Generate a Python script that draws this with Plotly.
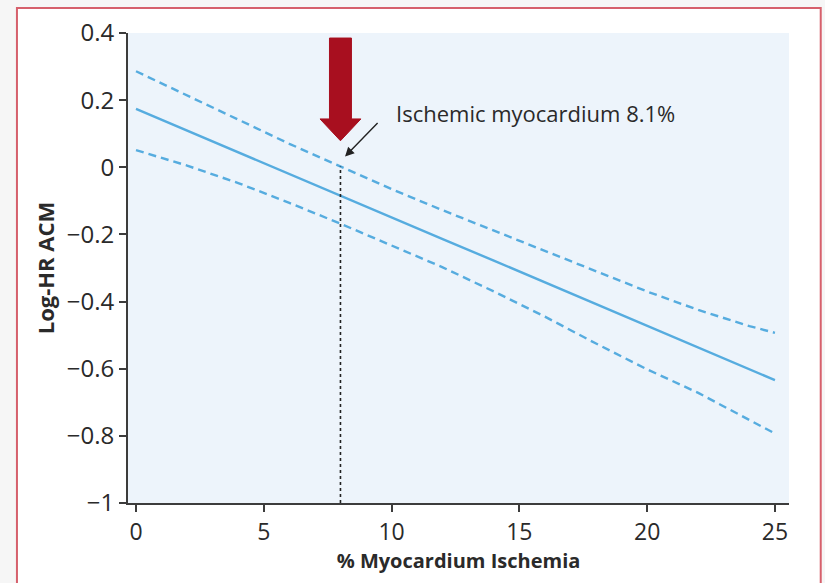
import plotly.graph_objects as go

# ---- data ----
ischemia_pct = [0, 2, 4, 6, 8, 10, 12, 14, 16, 18, 20, 22, 24, 25]
log_hr = [0.174, 0.109, 0.045, -0.020, -0.084, -0.149, -0.214, -0.278, -0.343, -0.407, -0.472, -0.537, -0.601, -0.634]
ci_upper = [0.286, 0.215, 0.142, 0.070, 0.002, -0.065, -0.128, -0.189, -0.250, -0.310, -0.370, -0.425, -0.473, -0.493]
ci_lower = [0.051, 0.005, -0.047, -0.106, -0.168, -0.232, -0.298, -0.370, -0.445, -0.525, -0.602, -0.672, -0.752, -0.793]
threshold = 8.0
threshold_label = "Ischemic myocardium 8.1%"
y_tickvals = [0.4, 0.2, 0, -0.2, -0.4, -0.6, -0.8, -1]
y_ticktext = ["0.4", "0.2", "0", "\u22120.2", "\u22120.4", "\u22120.6", "\u22120.8", "\u22121"]
x_tickvals = [0, 5, 10, 15, 20, 25]

line_color = "#56acdf"
axis_color = "#3c3c3c"
font_fam = "Open Sans, Roboto, sans-serif"

fig = go.Figure()

fig.add_trace(go.Scatter(x=ischemia_pct, y=ci_upper, mode="lines",
                         line=dict(color=line_color, width=2.4, dash="8px,5px"),
                         hoverinfo="skip", showlegend=False))
fig.add_trace(go.Scatter(x=ischemia_pct, y=ci_lower, mode="lines",
                         line=dict(color=line_color, width=2.4, dash="8px,5px"),
                         hoverinfo="skip", showlegend=False))
fig.add_trace(go.Scatter(x=ischemia_pct, y=log_hr, mode="lines",
                         line=dict(color=line_color, width=2.4),
                         showlegend=False))

def interp(xv, xs, ys):
    for i in range(len(xs) - 1):
        if xs[i] <= xv <= xs[i + 1]:
            t = (xv - xs[i]) / (xs[i + 1] - xs[i])
            return ys[i] + t * (ys[i + 1] - ys[i])
    return ys[-1]

top_at_thr = interp(threshold, ischemia_pct, ci_upper)

fig.add_trace(go.Scatter(x=[threshold, threshold], y=[-1, top_at_thr], mode="lines",
                         line=dict(color="#222222", width=1.6, dash="dot"),
                         hoverinfo="skip", showlegend=False))

shapes = [
    dict(type="rect", xref="paper", yref="paper", x0=-0.168, x1=1.048, y0=-0.2, y1=1.053,
         fillcolor="white", line=dict(color="#d6606c", width=2), layer="below"),
    dict(type="rect", xref="x domain", yref="y domain", x0=0, x1=1, y0=0, y1=1,
         fillcolor="#edf4fb", line=dict(width=0), layer="below"),
]

tip_y = 0.079
head_y = 0.144
top_y = 0.385
sw = 0.43
hw = 0.80
path = (f"M {threshold - sw},{top_y} L {threshold + sw},{top_y} L {threshold + sw},{head_y} "
        f"L {threshold + hw},{head_y} L {threshold},{tip_y} L {threshold - hw},{head_y} "
        f"L {threshold - sw},{head_y} Z")
shapes.append(dict(type="path", xref="x", yref="y", path=path,
                   fillcolor="#a80f1f", line=dict(color="#a80f1f", width=1), layer="above"))

fig.update_layout(
    width=825, height=583,
    margin=dict(l=128, r=36, t=33, b=80),
    paper_bgcolor="#f6f6f6",
    plot_bgcolor="rgba(0,0,0,0)",
    shapes=shapes,
    font=dict(family=font_fam, color="#2a2a2a", size=19),
    xaxis=dict(range=[-0.313, 25.55], tickvals=x_tickvals, showgrid=False, zeroline=False,
               showline=True, linecolor=axis_color, linewidth=2,
               ticks="outside", ticklen=7, tickwidth=2, tickcolor=axis_color,
               tickfont=dict(size=23),
               title=dict(text="<b>% Myocardium Ischemia</b>",
                          font=dict(size=20), standoff=4)),
    yaxis=dict(range=[-1, 0.4], tickvals=y_tickvals, ticktext=y_ticktext, showgrid=False,
               zeroline=False, showline=True, linecolor=axis_color, linewidth=2,
               ticks="outside", ticklen=7, tickwidth=2, tickcolor=axis_color,
               tickfont=dict(size=24),
               title=dict(text="<b>Log-HR ACM</b>", font=dict(size=22), standoff=6)),
    annotations=[
        dict(x=threshold + 0.18, y=0.032, xref="x", yref="y", text="",
             showarrow=True, arrowhead=2, arrowsize=1.3, arrowwidth=1.4, arrowcolor="#222222",
             ax=34, ay=-35),
        dict(x=10.1, y=0.162, xref="x", yref="y", text=threshold_label,
             showarrow=False, xanchor="left", yanchor="middle",
             font=dict(size=22, color="#2a2a2a")),
    ],
)

fig.write_html("out.html")
